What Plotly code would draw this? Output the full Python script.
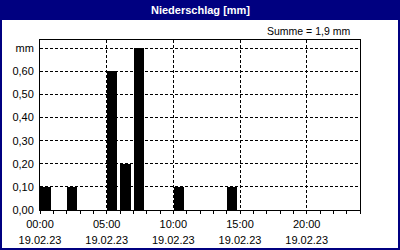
import plotly.graph_objects as go

# Data
hours = [0, 2, 5, 6, 7, 10, 14]
values = [0.1, 0.1, 0.6, 0.2, 0.7, 0.1, 0.1]
x_tick_vals = [0, 5, 10, 15, 20]
x_tick_times = ["00:00", "05:00", "10:00", "15:00", "20:00"]
x_tick_dates = ["19.02.23"] * 5
y_tick_vals = [0, 0.1, 0.2, 0.3, 0.4, 0.5, 0.6, 0.7]
y_tick_text = ["0,00", "0,10", "0,20", "0,30", "0,40", "0,50", "0,60", "mm"]
title_text = "Niederschlag [mm]"
sum_text = "Summe = 1,9 mm"

W, H = 400, 250
L, R, T, B = 40, 40, 40, 40
pw, ph = W - L - R, H - T - B

def px_x(x):
    return (x - L) / pw

def px_y(y):
    return (H - B - y) / ph

FONT = "Liberation Sans"
NAVY = "#000080"

fig = go.Figure()
fig.add_trace(go.Bar(
    x=hours, y=values, width=0.78, offset=0.02,
    marker=dict(color="black", line=dict(width=0)),
    xaxis="x", yaxis="y", showlegend=False,
))
# invisible trace to activate secondary x axis for dates
fig.add_trace(go.Scatter(x=[0], y=[0], xaxis="x2", yaxis="y", mode="markers",
                         marker=dict(opacity=0), showlegend=False, hoverinfo="skip"))

fig.update_layout(
    width=W, height=H,
    margin=dict(l=L, r=R, t=T, b=B, pad=0, autoexpand=False),
    paper_bgcolor="white", plot_bgcolor="white",
    font=dict(family=FONT, size=11, color="black"),
    bargap=0,
    xaxis=dict(
        range=[0, 24], tickmode="array", tickvals=x_tick_vals, ticktext=x_tick_times,
        showgrid=True, gridcolor="black", gridwidth=1, griddash="3px,2px",
        showline=True, linecolor="black", linewidth=1, mirror=True,
        ticks="outside", ticklen=3, tickcolor="black", tickwidth=1,
        minor=dict(dtick=1, tick0=0, ticks="outside", ticklen=3, tickcolor="black", showgrid=False),
        ticklabelstandoff=1, zeroline=False, fixedrange=True, automargin=False,
        tickfont=dict(size=11),
    ),
    xaxis2=dict(
        range=[0, 24], overlaying="x", anchor="y", side="bottom",
        tickmode="array", tickvals=x_tick_vals, ticktext=x_tick_dates,
        showgrid=False, showline=False, ticks="", ticklabelstandoff=22,
        zeroline=False, automargin=False, tickfont=dict(size=11),
    ),
    yaxis=dict(
        range=[0, 0.736], tickmode="array", tickvals=y_tick_vals, ticktext=y_tick_text,
        showgrid=True, gridcolor="black", gridwidth=1, griddash="3px,2px",
        showline=True, linecolor="black", linewidth=1, mirror=True, automargin=False,
        ticks="", ticklabelstandoff=3, zeroline=False, tickfont=dict(size=11),
    ),
    shapes=[
        dict(type="rect", xref="paper", yref="paper",
             x0=px_x(0), x1=px_x(400), y0=px_y(20), y1=px_y(0),
             fillcolor=NAVY, line=dict(width=0), layer="above"),
        dict(type="rect", xref="paper", yref="paper",
             x0=px_x(1), x1=px_x(399), y0=px_y(249), y1=px_y(1),
             fillcolor="rgba(0,0,0,0)", line=dict(color=NAVY, width=2), layer="above"),
    ],
    annotations=[
        dict(text="<b>" + title_text + "</b>", xref="paper", yref="paper",
             x=px_x(200), y=px_y(10), xanchor="center", yanchor="middle",
             showarrow=False, font=dict(color="white", size=11, family=FONT)),
        dict(text=sum_text, xref="paper", yref="paper",
             x=px_x(352), y=px_y(31), xanchor="right", yanchor="middle",
             showarrow=False, font=dict(color="black", size=10.5, family=FONT)),
    ],
)

fig.write_html("out.html")
